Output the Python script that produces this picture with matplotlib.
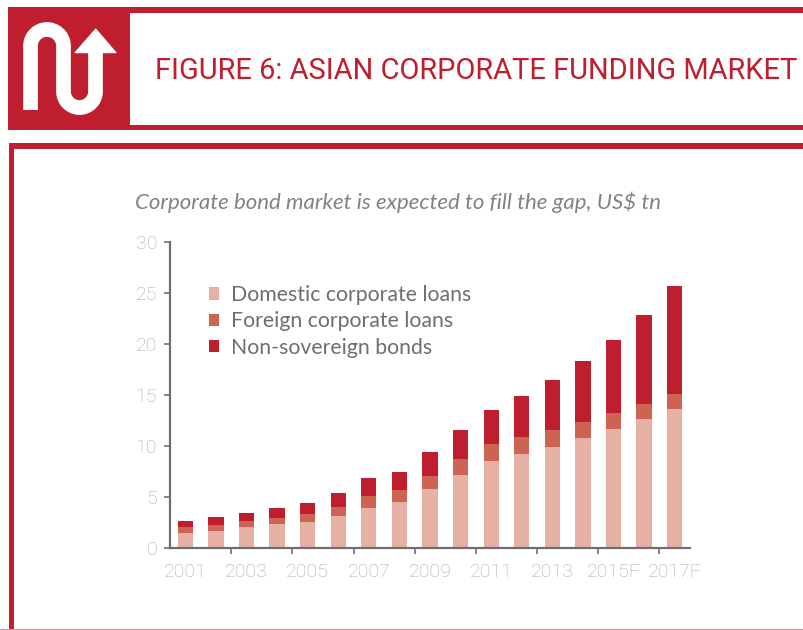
import numpy as np
import matplotlib
matplotlib.use("Agg")
import matplotlib.pyplot as plt
from matplotlib.lines import Line2D
from matplotlib.patches import Polygon, Rectangle

years = ["2001", "2002", "2003", "2004", "2005", "2006", "2007", "2008", "2009",
         "2010", "2011", "2012", "2013", "2014", "2015F", "2016F", "2017F"]
domestic_loans = [1.47, 1.67, 2.03, 2.30, 2.55, 3.10, 3.90, 4.50, 5.80,
                  7.09, 8.46, 9.15, 9.87, 10.72, 11.60, 12.58, 13.56]
foreign_loans = [0.53, 0.53, 0.57, 0.60, 0.75, 0.90, 1.13, 1.15, 1.22,
                 1.57, 1.67, 1.67, 1.63, 1.60, 1.57, 1.50, 1.54]
bonds = [0.60, 0.80, 0.77, 0.95, 1.08, 1.40, 1.77, 1.80, 2.41,
         2.88, 3.33, 4.02, 4.97, 5.95, 7.19, 8.76, 10.59]
series_names = ["Domestic corporate loans", "Foreign corporate loans", "Non-sovereign bonds"]
y_ticks = [0, 5, 10, 15, 20, 25, 30]

RED = "#BE1E2D"
MID = "#CD6353"
PALE = "#E6B1A4"
DARK_GREY = "#6D6E71"
LIGHT_GREY = "#A9ABAE"
SANS = "Lato"

W, H = 804, 630
fig = plt.figure(figsize=(W / 100, H / 100), dpi=100, facecolor="white")

# Page furniture is laid out in pixel coordinates with the origin at top left
page = fig.add_axes([0, 0, 1, 1], zorder=0)
page.set_xlim(0, W)
page.set_ylim(H, 0)
page.axis("off")


def block(x, y, w, h, colour=RED):
    page.add_patch(Rectangle((x, y), w, h, facecolor=colour, edgecolor="none"))


# Header band and logo square
block(8, 7, 122, 123)
block(130, 7, W - 130, 5.5)
block(130, 124.5, W - 130, 5.5)
# Panel frame
block(9, 143, W - 9, 5.5)
block(9, 143, 5.5, H - 143)
block(0, 629, W, 1, "#D9929A")

# Logo: a white ribbon that doubles back and ends in an arrow
t = np.linspace(np.pi, 0, 60)
arch_x = 47 + 16.5 * np.cos(t)
arch_y = 46 - 16.5 * np.sin(t)
bowl_x = 79.5 + 16 * np.cos(t)
bowl_y = 91.5 + 16 * np.sin(t)
ribbon_x = np.concatenate([[30.5], arch_x, bowl_x, [95.5]])
ribbon_y = np.concatenate([[110], arch_y, bowl_y, [50]])
page.add_line(Line2D(ribbon_x, ribbon_y, color="white", lw=10.6,
                     solid_capstyle="butt", solid_joinstyle="round"))
page.add_patch(Polygon([(95.7, 29), (116, 52.7), (75, 52.7)], closed=True,
                       facecolor="white", edgecolor="white", lw=0.8, joinstyle="round"))

page.text(155, 71, "FIGURE 6: ASIAN CORPORATE FUNDING MARKET", color=RED,
          family="Roboto", fontsize=20.9, va="center", ha="left")
page.text(135, 202, "Corporate bond market is expected to fill the gap, US$ tn",
          color="#808285", family=SANS, style="italic", fontsize=16, va="center", ha="left")

# Stacked bars
ax = fig.add_axes([170 / W, (H - 547.7) / H, 520 / W, 306 / H], zorder=1)
ax.patch.set_alpha(0)
x = np.arange(len(years))
dom = np.array(domestic_loans)
fgn = np.array(foreign_loans)
bnd = np.array(bonds)
width = 0.5
ax.bar(x, dom, width, color=PALE, label=series_names[0])
ax.bar(x, fgn, width, bottom=dom, color=MID, label=series_names[1])
ax.bar(x, bnd, width, bottom=dom + fgn, color=RED, label=series_names[2])

ax.set_xlim(-0.5, 16.5)
ax.set_ylim(0, 30)
ax.set_yticks(y_ticks)
ax.set_yticklabels([str(v) for v in y_ticks])

# Tick marks fall between the labelled years; labels sit under their own bars
ax.set_xticks(np.arange(1.5, 16, 2))
ax.set_xticklabels([])
ax.set_xticks(x[::2], minor=True)
ax.set_xticklabels(years[::2], minor=True)
ax.tick_params(axis="x", which="major", length=4.2, width=1.2, color=DARK_GREY)
ax.tick_params(axis="x", which="minor", length=0, pad=11, labelsize=14, labelcolor=LIGHT_GREY)
ax.tick_params(axis="y", length=4.2, width=1.2, color=DARK_GREY, pad=5,
               labelsize=14, labelcolor=LIGHT_GREY)
for label in ax.get_xticklabels(minor=True) + ax.get_yticklabels():
    label.set_family("Roboto")
    label.set_fontweight("light")

for side in ("top", "right"):
    ax.spines[side].set_visible(False)
for side in ("left", "bottom"):
    ax.spines[side].set_color(DARK_GREY)
    ax.spines[side].set_linewidth(1.6)

ax.legend(loc="upper left", bbox_to_anchor=(39 / 520, 1 - 43.3 / 306), frameon=False,
          prop={"family": SANS, "size": 15.3}, labelcolor=DARK_GREY,
          handlelength=0.47, handleheight=0.5, handletextpad=0.56,
          labelspacing=0.3, borderpad=0, borderaxespad=0)

fig.savefig("out.png", dpi=100)
